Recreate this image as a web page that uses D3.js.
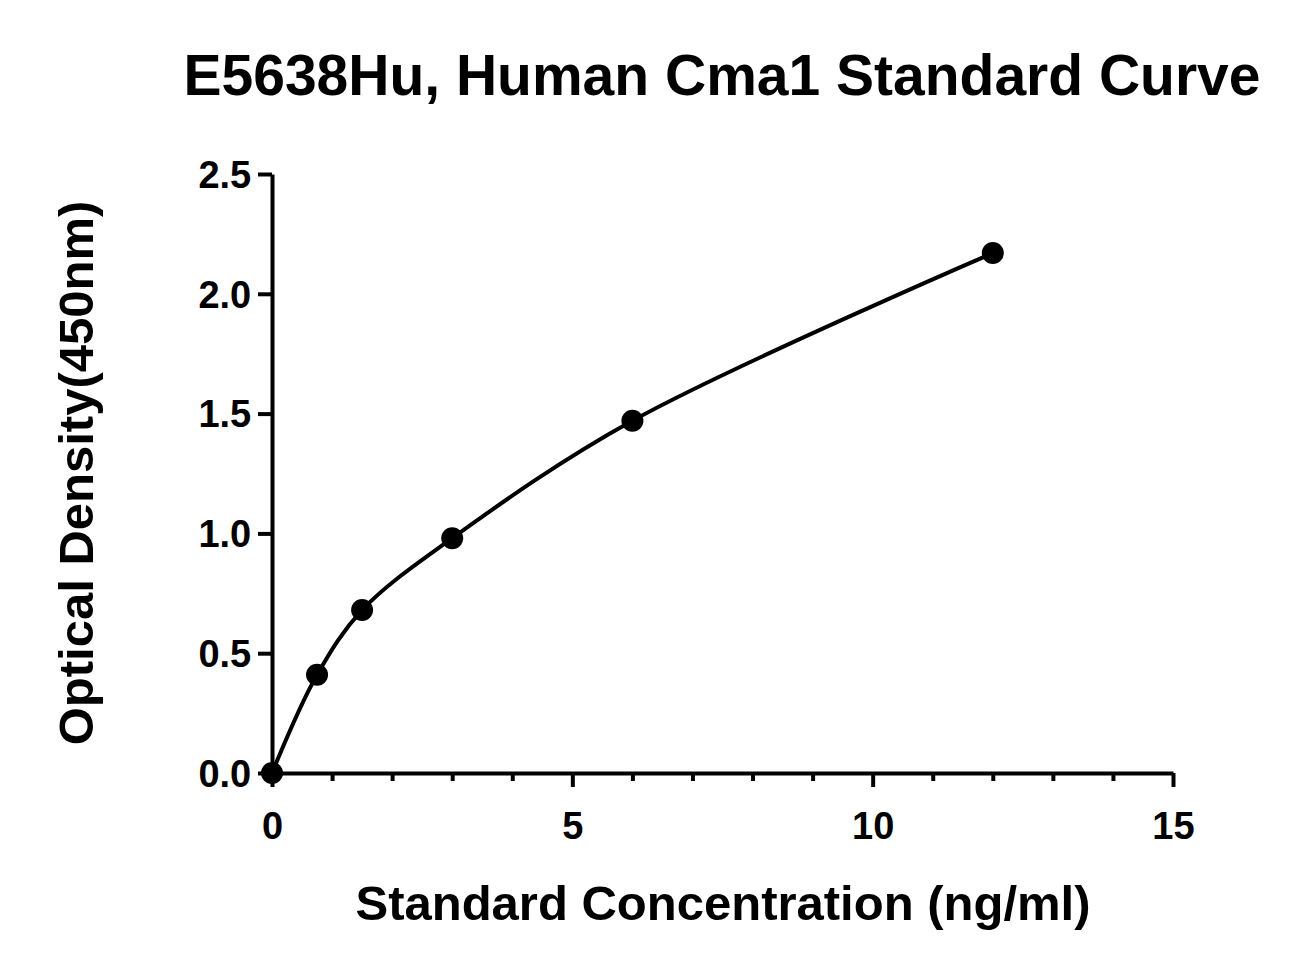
<!DOCTYPE html>
<html><head><meta charset="utf-8">
<script src="https://cdn.jsdelivr.net/npm/d3@7"></script>
<style>body{margin:0;background:#fff}text{font-family:"Liberation Sans",Arial,sans-serif;font-weight:bold}</style>
</head><body>
<svg id="c" width="1314" height="975"></svg>
<script>
const concentrations=[0,0.75,1.5,3,6,12];
const densities=[0,0.41,0.68,0.98,1.47,2.17];
const xTicks=[0,5,10,15];
const yTicks=[0,0.5,1,1.5,2,2.5];
const title="E5638Hu, Human Cma1 Standard Curve";
const xTitle="Standard Concentration (ng/ml)";
const yTitle="Optical Density(450nm)";

const svg=d3.select("#c");
const x=d3.scaleLinear().domain([0,15]).range([272,1173]);
const y=d3.scaleLinear().domain([0,2.5]).range([773,174]);

svg.append("text").attr("x",722).attr("y",95).attr("text-anchor","middle").style("font-size","57px").text(title);

const xa=svg.append("g").attr("transform","translate(0,773)")
 .call(d3.axisBottom(x).tickValues(xTicks).tickFormat(d3.format("d")).tickSize(14).tickSizeOuter(0));
svg.append("g").attr("transform","translate(0,773)")
 .call(d3.axisBottom(x).tickValues(d3.range(1,15).filter(d=>d%5)).tickFormat("").tickSize(8).tickSizeOuter(0))
 .select(".domain").remove();
const ya=svg.append("g").attr("transform","translate(272,0)")
 .call(d3.axisLeft(y).tickValues(yTicks).tickFormat(d3.format(".1f")).tickSize(14).tickSizeOuter(0));
svg.selectAll(".domain,.tick line").attr("stroke","#000").attr("stroke-width",4);
svg.selectAll(".tick text").style("font-size","38px").style("font-family","Liberation Sans, Arial").style("font-weight","bold").attr("fill","#000");
xa.selectAll(".tick text").attr("dy","1.3em");
ya.selectAll(".tick text").attr("dx","-0.1em").attr("dy","0.35em");

svg.append("text").attr("x",723).attr("y",920).attr("text-anchor","middle").style("font-size","49px").text(xTitle);
svg.append("text").attr("transform","translate(93,473) rotate(-90)").attr("text-anchor","middle").style("font-size","49px").text(yTitle);

const data=concentrations.map((c,i)=>[c,densities[i]]);
svg.append("path").datum(data).attr("fill","none").attr("stroke","#000").attr("stroke-width",4)
 .attr("d",d3.line().x(d=>x(d[0])).y(d=>y(d[1])).curve(d3.curveCatmullRom.alpha(0.5)));
svg.selectAll("circle.p").data(data).join("circle").attr("cx",d=>x(d[0])).attr("cy",d=>y(d[1])).attr("r",11).attr("fill","#000");
</script>
</body></html>
